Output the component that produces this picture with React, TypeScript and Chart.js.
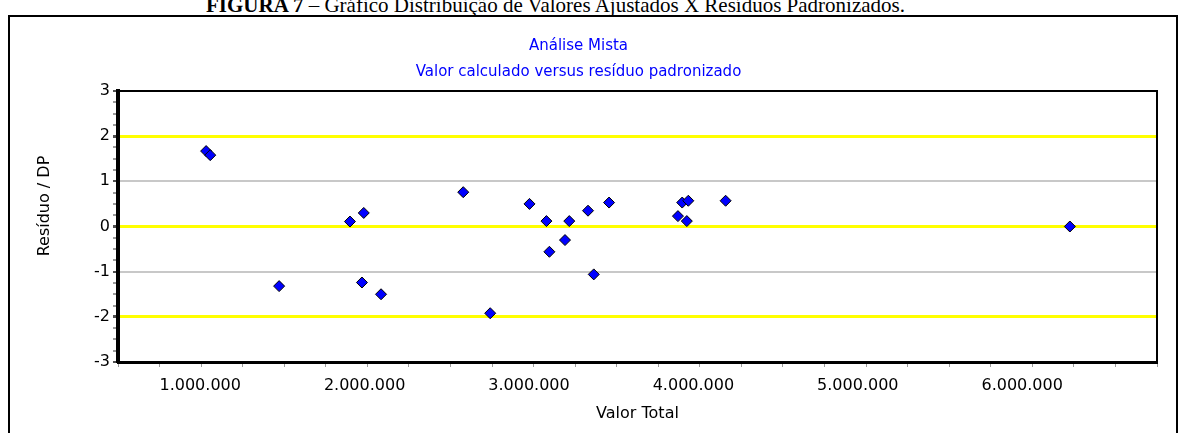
import React, { useEffect, useRef } from 'react';
import { Chart, registerables } from 'chart.js';

Chart.register(...registerables);

// ---- data ----
const valorTotal = [
  1036000, 1061000, 1480000, 1911000, 1995000, 1984000, 2100000, 2600000,
  2764000, 3003000, 3106000, 3124000, 3219000, 3245000, 3359000, 3394000,
  3487000, 3906000, 3932000, 3969000, 3960000, 4196000, 6290000,
];
const residuoDP = [
  1.67, 1.58, -1.32, 0.11, 0.3, -1.24, -1.5, 0.76,
  -1.92, 0.5, 0.12, -0.56, -0.3, 0.12, 0.35, -1.06,
  0.53, 0.23, 0.53, 0.57, 0.12, 0.57, 0.0,
];
const xMin = 500000;
const xMax = 6820000;
const xMinorStep = 250000;
const xTickLabels = [1000000, 2000000, 3000000, 4000000, 5000000, 6000000];
const yTickLabels = [-3, -2, -1, 0, 1, 2, 3];
const yellowLines = [-2, 0, 2];
const grayLines = [-1, 1];

const chartTitle = ['Análise Mista', 'Valor calculado versus resíduo padronizado'];
const xAxisTitle = 'Valor Total';
const yAxisTitle = 'Resíduo / DP';
const captionBold = 'FIGURA 7';
const captionRest = ' – Gráfico Distribuição de Valores Ajustados X Resíduos Padronizados.';

const FONT = 'DejaVu Sans';

const fmtBR = (n: number) => String(Math.round(n)).replace(/\B(?=(\d{3})+(?!\d))/g, '.');

export default function App() {
  const canvasRef = useRef<HTMLCanvasElement | null>(null);

  useEffect(() => {
    if (!canvasRef.current) return;

    const framePlugin = {
      id: 'framePlugin',
      afterDraw(chart: any) {
        const { ctx, chartArea } = chart;
        const xs = chart.scales.x;
        ctx.save();
        // top and right edges of the plot frame
        ctx.strokeStyle = '#000';
        ctx.lineWidth = 2;
        ctx.beginPath();
        ctx.moveTo(chartArea.left, chartArea.top);
        ctx.lineTo(chartArea.right, chartArea.top);
        ctx.lineTo(chartArea.right, chartArea.bottom);
        ctx.stroke();
        // x tick labels, placed by the x scale
        ctx.fillStyle = '#000';
        ctx.font = `16px "${FONT}"`;
        ctx.textAlign = 'center';
        ctx.textBaseline = 'middle';
        xTickLabels.forEach((v) => {
          ctx.fillText(fmtBR(v), xs.getPixelForValue(v), chartArea.bottom + 24);
        });
        // y axis title
        ctx.translate(45, 206);
        ctx.rotate(-Math.PI / 2);
        ctx.fillText(yAxisTitle, 0, 0);
        ctx.restore();
      },
    };

    const chart = new Chart(canvasRef.current, {
      type: 'scatter',
      data: {
        datasets: [
          {
            label: 'Resíduo',
            data: valorTotal.map((x, i) => ({ x, y: residuoDP[i] })),
            pointStyle: 'rectRot',
            pointRadius: 5.5,
            pointHoverRadius: 5.5,
            backgroundColor: '#0000FF',
            borderColor: '#000000',
            borderWidth: 1,
          },
        ],
      },
      options: {
        animation: false,
        responsive: true,
        maintainAspectRatio: false,
        layout: { padding: { left: 0, right: 22, top: 0, bottom: 0 } },
        plugins: {
          legend: { display: false },
          tooltip: { enabled: false },
          title: {
            display: true,
            text: chartTitle,
            color: '#0000FF',
            font: { family: FONT, size: 15, weight: 'normal', lineHeight: '26px' },
            padding: { top: 33, bottom: 6 },
          },
        },
        scales: {
          x: {
            type: 'linear',
            position: 'bottom',
            min: xMin,
            max: xMax,
            afterFit: (s: any) => {
              s.height = 71;
            },
            ticks: {
              stepSize: xMinorStep,
              autoSkip: false,
              maxRotation: 0,
              minRotation: 0,
              color: '#000',
              font: { family: FONT, size: 16 },
              padding: 8,
              callback: () => '',
            },
            grid: {
              drawOnChartArea: false,
              tickLength: 5,
              tickColor: (ctx: any) =>
                ctx.tick && xTickLabels.includes(ctx.tick.value) ? '#505050' : '#9A9A9A',
            },
            border: { color: '#000', width: 3 },
            title: {
              display: true,
              text: xAxisTitle,
              color: '#000',
              font: { family: FONT, size: 16 },
              padding: { top: 10, bottom: 10 },
            },
          },
          y: {
            type: 'linear',
            min: -3,
            max: 3,
            afterFit: (s: any) => {
              s.width = 118;
            },
            ticks: {
              stepSize: 0.25,
              autoSkip: false,
              color: '#000',
              font: { family: FONT, size: 16 },
              padding: 3,
              callback: (v: any) => (yTickLabels.includes(Number(v)) ? String(v) : ''),
            },
            grid: {
              tickLength: 5,
              tickColor: (ctx: any) =>
                ctx.tick && yTickLabels.includes(ctx.tick.value) ? '#505050' : '#9A9A9A',
              color: (ctx: any) => {
                const v = ctx.tick ? ctx.tick.value : null;
                if (yellowLines.includes(v)) return '#FFFF00';
                if (grayLines.includes(v)) return '#C8C8C8';
                return 'rgba(0,0,0,0)';
              },
              lineWidth: (ctx: any) => {
                const v = ctx.tick ? ctx.tick.value : null;
                return yellowLines.includes(v) ? 3 : 2;
              },
            },
            border: { color: '#000', width: 4 },
          },
        },
      },
      plugins: [framePlugin],
    });

    return () => chart.destroy();
  }, []);

  return (
    <div
      style={{
        position: 'fixed',
        left: 0,
        top: 0,
        width: 1179,
        height: 433,
        overflow: 'hidden',
        background: '#fff',
      }}
    >
      <div
        style={{
          position: 'absolute',
          left: -34,
          width: 1179,
          top: -5,
          textAlign: 'center',
          fontFamily: '"Liberation Serif", "Times New Roman", serif',
          fontSize: 21,
          lineHeight: '21px',
          color: '#000',
          whiteSpace: 'nowrap',
        }}
      >
        <b>{captionBold}</b>
        {captionRest}
      </div>
      <div
        style={{
          position: 'absolute',
          left: 8,
          top: 15,
          width: 1166,
          height: 500,
          border: '2px solid #000',
          boxSizing: 'content-box',
          background: '#fff',
        }}
      />
      <div style={{ position: 'absolute', left: 0, top: 0, width: 1179, height: 433 }}>
        <canvas ref={canvasRef} />
      </div>
    </div>
  );
}
